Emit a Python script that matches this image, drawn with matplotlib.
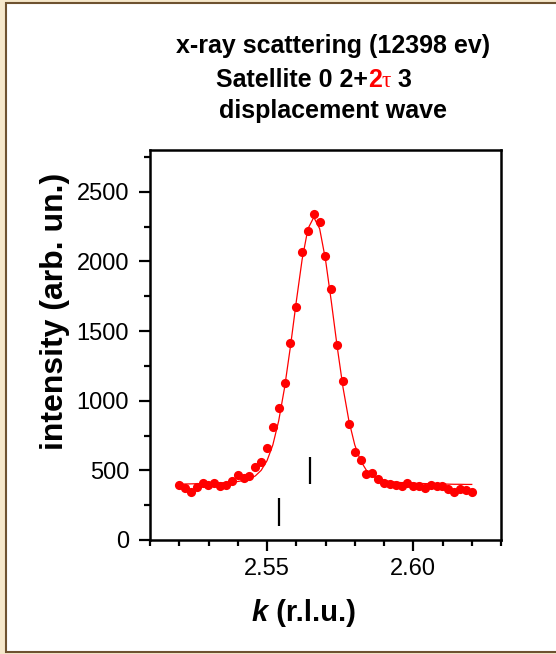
import matplotlib as mpl
import matplotlib.pyplot as plt
from matplotlib.patches import Rectangle
from matplotlib.ticker import FixedLocator, MultipleLocator


# DATA
k_scan = [2.520, 2.522, 2.524, 2.526, 2.528, 2.530, 2.532, 2.534, 2.536, 2.538,
          2.540, 2.542, 2.544, 2.546, 2.548, 2.550, 2.552, 2.554, 2.556, 2.558,
          2.560, 2.562, 2.564, 2.566, 2.568, 2.570, 2.572, 2.574, 2.576, 2.578,
          2.580, 2.582, 2.584, 2.586, 2.588, 2.590, 2.592, 2.594, 2.596, 2.598,
          2.600, 2.602, 2.604, 2.606, 2.608, 2.610, 2.612, 2.614, 2.616, 2.618,
          2.620]
intensity = [395, 371, 347, 378, 407, 395, 407, 388, 395, 426,
             466, 443, 459, 522, 562, 663, 809, 945, 1125, 1412,
             1670, 2065, 2220, 2342, 2285, 2036, 1801, 1400, 1145, 830,
             634, 574, 471, 478, 435, 407, 400, 395, 388, 407,
             390, 390, 371, 395, 388, 388, 364, 342, 364, 359,
             342]
fit_curve = [401, 402, 403, 404, 405, 406, 408, 410, 412, 415,
             420, 427, 439, 460, 500, 569, 683, 856, 1093, 1387,
             1710, 2013, 2235, 2317, 2235, 2013, 1710, 1387, 1093, 856,
             683, 569, 500, 460, 439, 427, 420, 415, 412, 410,
             408, 406, 405, 404, 403, 402, 401, 400, 400, 399,
             399]

# peak position markers (k, lower, upper)
marker_k = [2.5541, 2.5647]
marker_lo = [100, 402]
marker_hi = [300, 598]

x_major = [2.55, 2.60]
y_major = [0, 500, 1000, 1500, 2000, 2500]

FONT = "Liberation Sans"
W, H = 556, 654


def rc_setup():
    """Generalized plot attributes"""
    mpl.rcParams["font.family"] = FONT
    mpl.rcParams["axes.linewidth"] = 1.8
    mpl.rcParams["xtick.major.width"] = 1.6
    mpl.rcParams["xtick.minor.width"] = 1.6
    mpl.rcParams["ytick.major.width"] = 1.6
    mpl.rcParams["ytick.minor.width"] = 1.6


def text_pieces(fig, x0, y, pieces):
    """Draw consecutive text pieces left to right starting at pixel x0"""
    renderer = fig.canvas.get_renderer()
    x = x0
    for s, kw in pieces:
        t = fig.text(x / W, y, s, ha="left", va="baseline", **kw)
        x += t.get_window_extent(renderer).width


rc_setup()
fig = plt.figure(figsize=(W / 100, H / 100), dpi=100)
fig.patch.set_facecolor("#f6e8cb")

# Frame
fig.patches.append(Rectangle(
    (6 / W, 2.5 / H), 1.2, 1 - 5 / H, transform=fig.transFigure,
    facecolor="white", edgecolor="#6e5230", linewidth=1.5, zorder=-1
))

ax = fig.add_axes([150 / W, 114 / H, 351 / W, 390 / H])
ax.set_zorder(1)
ax.set_xlim(2.51, 2.63)
ax.set_ylim(0, 2800)

ax.plot(k_scan, fit_curve, color="red", linewidth=0.9, zorder=2)
ax.plot(k_scan, intensity, "o", color="red", markersize=6.6,
        markeredgewidth=0, zorder=3)
ax.vlines(marker_k, marker_lo, marker_hi, color="black", linewidth=1.6,
          zorder=4)

ax.xaxis.set_major_locator(FixedLocator(x_major))
ax.xaxis.set_minor_locator(MultipleLocator(0.01))
ax.xaxis.set_major_formatter(mpl.ticker.FormatStrFormatter("%.2f"))
ax.yaxis.set_major_locator(FixedLocator(y_major))
ax.yaxis.set_minor_locator(MultipleLocator(250))
ax.tick_params(axis="both", which="major", direction="out", length=8,
               labelsize=17, pad=5)
ax.tick_params(axis="both", which="minor", direction="out", length=4)
ax.tick_params(axis="y", which="major", pad=7)

# Axis labels
fig.text(55 / W, 1 - 311.5 / H, "intensity (arb. un.)", rotation=90,
         ha="center", va="center", fontsize=23, fontweight="bold")
text_pieces(fig, 252, 1 - 620.7 / H, [
    ("k", dict(fontsize=21, fontweight="bold", fontstyle="italic")),
    (" (r.l.u.)", dict(fontsize=21, fontweight="bold")),
])

# Title block
fig.text(333 / W, 1 - 53.3 / H, "x-ray scattering (12398 ev)",
         ha="center", va="baseline", fontsize=18, fontweight="bold")
text_pieces(fig, 216, 1 - 86.7 / H, [
    ("Satellite 0 2+", dict(fontsize=18, fontweight="bold")),
    ("2", dict(fontsize=18, fontweight="bold", color="red")),
    ("\u03c4", dict(fontsize=17, color="red", family="Liberation Serif")),
    (" 3", dict(fontsize=18, fontweight="bold")),
])
fig.text(333 / W, 1 - 118 / H, "displacement wave",
         ha="center", va="baseline", fontsize=18, fontweight="bold")

plt.savefig("out.png", dpi=100)
plt.close()
